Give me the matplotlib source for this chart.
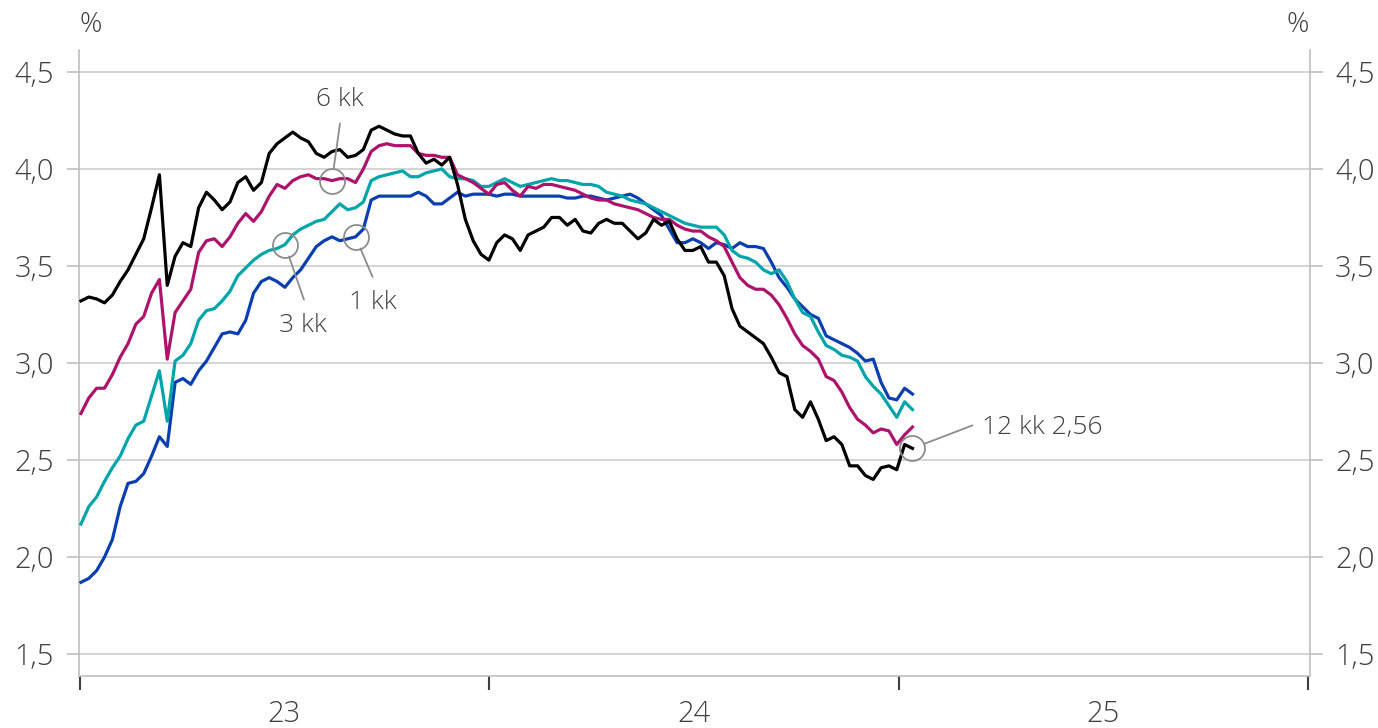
import numpy as np
import pandas as pd
import matplotlib
matplotlib.use("Agg")
import matplotlib.pyplot as plt
import matplotlib.dates as mdates

plt.rcParams['font.family'] = ['Open Sans', 'DejaVu Sans']
plt.rcParams['font.weight'] = 'light'

# Weekly observations (Mondays) from 2 Jan 2023 to 13 Jan 2025
dates = pd.date_range("2023-01-02", periods=107, freq="7D")

eur_12m = [3.32, 3.34, 3.33, 3.31, 3.35, 3.42, 3.48, 3.56, 3.64, 3.80,
           3.97, 3.40, 3.55, 3.62, 3.60, 3.80, 3.88, 3.84, 3.79, 3.83,
           3.93, 3.96, 3.89, 3.93, 4.08, 4.13, 4.16, 4.19, 4.16, 4.14,
           4.08, 4.06, 4.09, 4.10, 4.06, 4.07, 4.10, 4.20, 4.22, 4.20,
           4.18, 4.17, 4.17, 4.08, 4.03, 4.05, 4.02, 4.06, 3.92, 3.74,
           3.63, 3.56, 3.53, 3.62, 3.66, 3.64, 3.58, 3.66, 3.68, 3.70,
           3.75, 3.75, 3.71, 3.74, 3.68, 3.67, 3.72, 3.74, 3.72, 3.72,
           3.68, 3.64, 3.67, 3.74, 3.71, 3.73, 3.64, 3.58, 3.58, 3.60,
           3.52, 3.52, 3.45, 3.28, 3.19, 3.16, 3.13, 3.10, 3.03, 2.95,
           2.93, 2.76, 2.72, 2.80, 2.71, 2.60, 2.62, 2.58, 2.47, 2.47,
           2.42, 2.40, 2.46, 2.47, 2.45, 2.58, 2.56]

eur_6m = [2.74, 2.82, 2.87, 2.87, 2.94, 3.03, 3.10, 3.20, 3.24, 3.36,
          3.43, 3.02, 3.26, 3.32, 3.38, 3.57, 3.63, 3.64, 3.60, 3.65,
          3.72, 3.77, 3.73, 3.78, 3.86, 3.92, 3.90, 3.94, 3.96, 3.97,
          3.95, 3.95, 3.94, 3.95, 3.95, 3.93, 4.00, 4.09, 4.12, 4.13,
          4.12, 4.12, 4.12, 4.08, 4.07, 4.07, 4.06, 4.06, 3.97, 3.95,
          3.93, 3.90, 3.87, 3.92, 3.93, 3.89, 3.86, 3.91, 3.90, 3.92,
          3.92, 3.91, 3.90, 3.89, 3.87, 3.85, 3.84, 3.84, 3.82, 3.81,
          3.80, 3.79, 3.77, 3.75, 3.74, 3.74, 3.71, 3.69, 3.68, 3.68,
          3.65, 3.63, 3.60, 3.52, 3.44, 3.40, 3.38, 3.38, 3.35, 3.30,
          3.23, 3.15, 3.09, 3.06, 3.02, 2.93, 2.91, 2.85, 2.77, 2.71,
          2.68, 2.64, 2.66, 2.65, 2.58, 2.63, 2.67]

eur_3m = [2.17, 2.26, 2.31, 2.39, 2.46, 2.52, 2.61, 2.68, 2.70, 2.83,
          2.96, 2.70, 3.01, 3.04, 3.10, 3.22, 3.27, 3.28, 3.32, 3.37,
          3.45, 3.49, 3.53, 3.56, 3.58, 3.59, 3.61, 3.66, 3.69, 3.71,
          3.73, 3.74, 3.78, 3.82, 3.79, 3.80, 3.83, 3.94, 3.96, 3.97,
          3.98, 3.99, 3.96, 3.96, 3.98, 3.99, 4.00, 3.96, 3.95, 3.95,
          3.94, 3.91, 3.91, 3.93, 3.95, 3.93, 3.91, 3.92, 3.93, 3.94,
          3.95, 3.94, 3.94, 3.93, 3.92, 3.92, 3.91, 3.88, 3.87, 3.86,
          3.84, 3.83, 3.82, 3.80, 3.78, 3.76, 3.74, 3.72, 3.71, 3.70,
          3.70, 3.70, 3.66, 3.58, 3.55, 3.54, 3.52, 3.48, 3.46, 3.48,
          3.42, 3.33, 3.26, 3.24, 3.16, 3.09, 3.07, 3.04, 3.03, 3.01,
          2.93, 2.88, 2.84, 2.78, 2.72, 2.80, 2.76]

eur_1m = [1.87, 1.89, 1.93, 2.00, 2.09, 2.26, 2.38, 2.39, 2.43, 2.52,
          2.62, 2.57, 2.90, 2.92, 2.89, 2.96, 3.01, 3.08, 3.15, 3.16,
          3.15, 3.22, 3.36, 3.42, 3.44, 3.42, 3.39, 3.44, 3.48, 3.54,
          3.60, 3.63, 3.65, 3.63, 3.64, 3.65, 3.69, 3.84, 3.86, 3.86,
          3.86, 3.86, 3.86, 3.88, 3.86, 3.82, 3.82, 3.85, 3.88, 3.86,
          3.87, 3.87, 3.87, 3.86, 3.87, 3.87, 3.86, 3.86, 3.86, 3.86,
          3.86, 3.86, 3.85, 3.85, 3.86, 3.86, 3.85, 3.84, 3.85, 3.86,
          3.87, 3.85, 3.82, 3.79, 3.76, 3.69, 3.62, 3.62, 3.64, 3.62,
          3.59, 3.62, 3.61, 3.59, 3.62, 3.60, 3.60, 3.59, 3.52, 3.44,
          3.39, 3.33, 3.29, 3.25, 3.23, 3.14, 3.12, 3.10, 3.08, 3.05,
          3.01, 3.02, 2.90, 2.82, 2.81, 2.87, 2.84]

y_ticks = [1.5, 2.0, 2.5, 3.0, 3.5, 4.0, 4.5]
year_starts = ["2023-01-01", "2024-01-01", "2025-01-01", "2026-01-01"]
year_mids = ["2023-07-02", "2024-07-02", "2025-07-02"]
year_labels = ["23", "24", "25"]

C_BLACK = "#000000"
C_MAGENTA = "#AE136B"
C_TEAL = "#00A5AA"
C_BLUE = "#0A3FAF"
TXT = "#404040"
GRID = "#d4d4d4"
SPINE = "#bfbfbf"
ANN = "#8c8c8c"

fig = plt.figure(figsize=(13.78, 7.28), dpi=100)
ax = fig.add_axes([79 / 1378, 52 / 728, 1231 / 1378, 626 / 728])

lw = 2.3
ax.plot(dates, eur_1m, color=C_BLUE, lw=lw, zorder=3)
ax.plot(dates, eur_3m, color=C_TEAL, lw=lw, zorder=4)
ax.plot(dates, eur_6m, color=C_MAGENTA, lw=lw, zorder=5)
ax.plot(dates, eur_12m, color=C_BLACK, lw=lw, zorder=6)

ax.set_ylim(1.387, 4.613)
ax.set_xlim(pd.Timestamp("2022-12-31 06:00"), pd.Timestamp("2026-01-02 18:00"))

ax.set_yticks(y_ticks)
ax.set_yticklabels([f"{v:.1f}".replace(".", ",") for v in y_ticks])
ax.yaxis.grid(True, color=GRID, lw=1.4)
ax.set_axisbelow(True)
ax.tick_params(axis='y', which='both', left=True, right=True, labelleft=True,
               labelright=True, length=9, width=1.2, color=SPINE,
               labelsize=21, labelcolor=TXT, pad=9)

ax.set_xticks([pd.Timestamp(d) for d in year_starts])
ax.set_xticklabels([])
ax.set_xticks([pd.Timestamp(d) for d in year_mids], minor=True)
ax.set_xticklabels(year_labels, minor=True)
ax.tick_params(axis='x', which='major', length=10, width=1.5, color="#404040")
ax.tick_params(axis='x', which='minor', length=0, labelsize=21,
               labelcolor=TXT, pad=17)

for s in ["top"]:
    ax.spines[s].set_visible(False)
for s in ["left", "right", "bottom"]:
    ax.spines[s].set_color(SPINE)
    ax.spines[s].set_linewidth(1.2)

fig.text(91 / 1378, 1 - 25 / 728, "%", ha="center", va="center",
         fontsize=20, color=TXT)
fig.text(1298 / 1378, 1 - 25 / 728, "%", ha="center", va="center",
         fontsize=20, color=TXT)

# Annotations: (series, index, label, line-end offset px, text offset px, ha)
def annotate(series, idx, label, line_off, text_off, ha="center"):
    x = dates[idx]
    y = series[idx]
    ax.plot([x], [y], marker="o", ms=18, mfc="none", mec=ANN, mew=1.3,
            zorder=10)
    ax.annotate("", xy=(x, y), xytext=line_off, textcoords="offset pixels",
                arrowprops=dict(arrowstyle="-", color=ANN, lw=1.3,
                                shrinkA=0, shrinkB=9), zorder=10)
    ax.annotate(label, xy=(x, y), xytext=text_off, textcoords="offset pixels",
                ha=ha, va="center", fontsize=19, color=TXT, zorder=10)

annotate(eur_6m, 32, "6 kk", (8, 57), (8, 81))
annotate(eur_3m, 26, "3 kk", (19, -55), (18, -81))
annotate(eur_1m, 35, "1 kk", (17, -40), (17, -66))
annotate(eur_12m, 106, "12 kk 2,56", (60, 23), (70, 21), ha="left")

fig.savefig("out.png", dpi=100)
